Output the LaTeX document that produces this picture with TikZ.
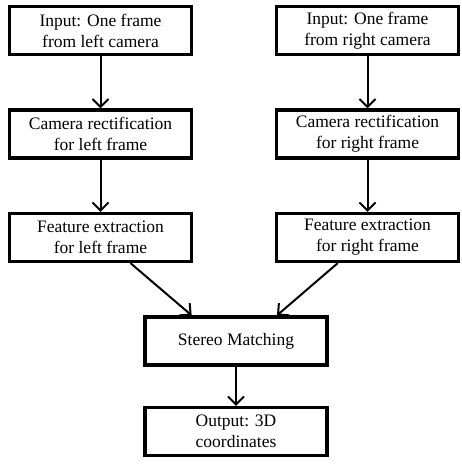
\documentclass[tikz,border=0pt]{standalone}
\usepackage{fontspec}
\setmainfont{Liberation Serif}
\usetikzlibrary{arrows.meta}

\begin{document}
\begin{tikzpicture}[->,>={Straight Barb[length=8pt,width=16pt]},line width=2pt,node distance=103.5pt,
  main node/.style={rectangle,draw,line width=3.2pt,minimum width=182pt,minimum height=48pt,
    inner sep=2pt,align=center,font=\fontsize{17.5}{21}\selectfont}]
  \useasboundingbox (0,0) rectangle (461pt,-465pt);
  \node[main node] (l1) at (100.5pt,-30.5pt) {Input: One frame\\from left camera};
  \node[main node] (l2) [below of=l1] {Camera rectification\\for left frame};
  \node[main node] (l3) [below of=l2] {Feature extraction\\for left frame};
  \node[main node] (r1) [right of=l1, node distance=267pt] {Input: One frame\\from right camera};
  \node[main node] (r2) [below of=r1] {Camera rectification\\for right frame};
  \node[main node] (r3) [below of=r2] {Feature extraction\\for right frame};
  \node[main node] (sm) at (236pt,-341pt) {Stereo Matching};
  \node[main node] (out) [below of=sm, node distance=90.5pt] {Output: 3D\\coordinates};
  \path
    (l1) edge (l2)
    (l2) edge (l3)
    (r1) edge (r2)
    (r2) edge (r3)
    (l3) edge (sm.150)
    (r3) edge (sm.32)
    (sm) edge (out);
\end{tikzpicture}
\end{document}
